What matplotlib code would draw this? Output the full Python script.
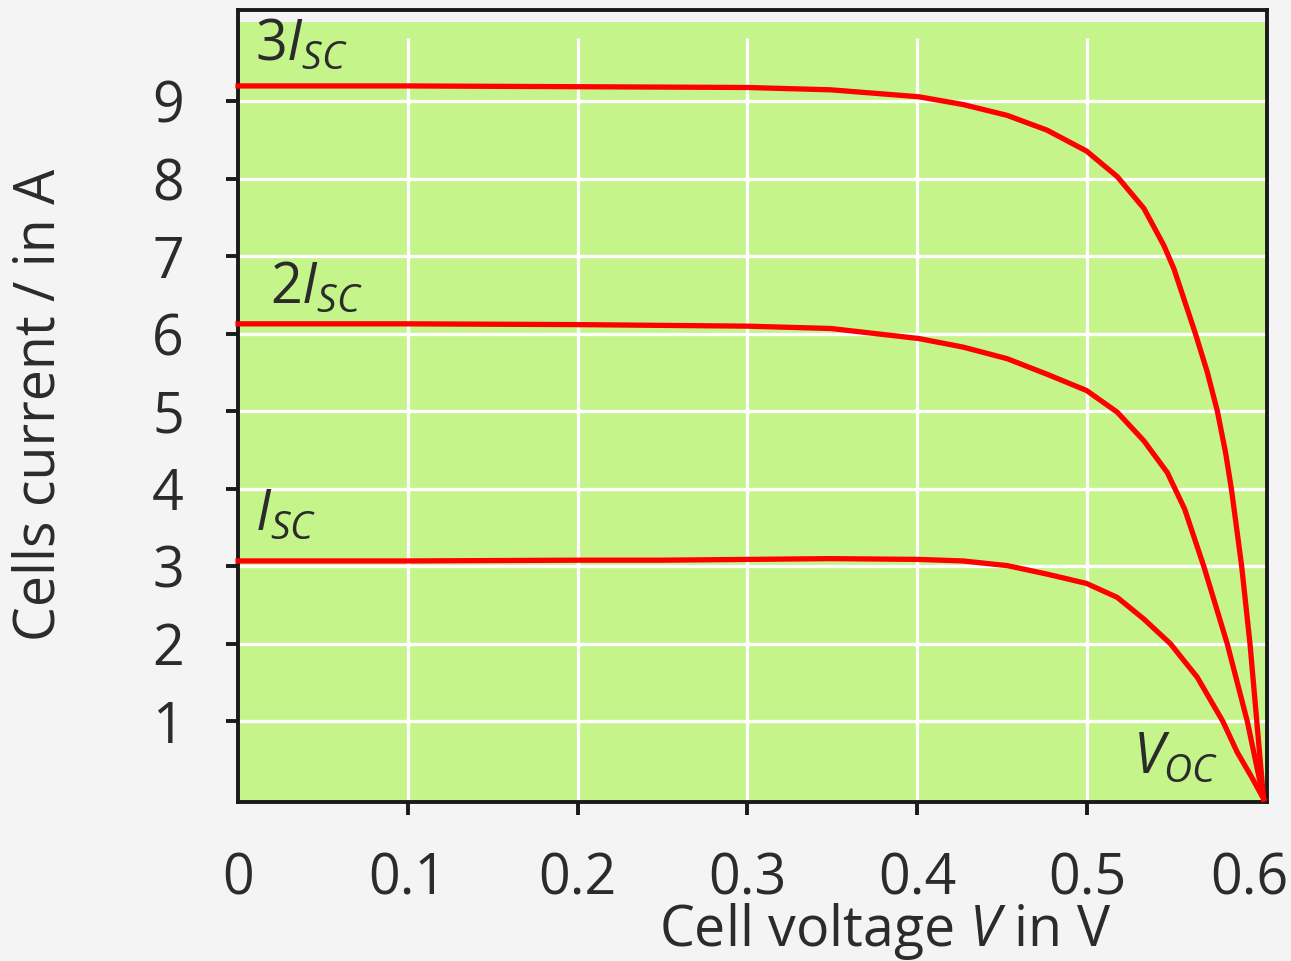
import matplotlib
matplotlib.use("Agg")
import matplotlib.pyplot as plt
from matplotlib.transforms import ScaledTranslation

plt.rcParams['font.family'] = ['Open Sans', 'DejaVu Sans']
plt.rcParams['mathtext.fontset'] = 'custom'
plt.rcParams['mathtext.rm'] = 'Open Sans'
plt.rcParams['mathtext.it'] = 'Open Sans:italic'

# data (cell voltage in V, current in A)
v_1isc = [0, 0.1, 0.2, 0.25, 0.3, 0.349, 0.401, 0.427, 0.453, 0.4765, 0.4997,
          0.5178, 0.5335, 0.5492, 0.5649, 0.58, 0.5885, 0.597, 0.604]
i_1isc = [3.07, 3.07, 3.08, 3.08, 3.09, 3.10, 3.09, 3.07, 3.01, 2.90, 2.78,
          2.60, 2.32, 2.0, 1.57, 1.0, 0.6, 0.28, 0.0]

v_2isc = [0, 0.1, 0.2, 0.3, 0.349, 0.401, 0.427, 0.453, 0.4764, 0.4997, 0.5178,
          0.5335, 0.5473, 0.5575, 0.5688, 0.5826, 0.5944, 0.604]
i_2isc = [6.13, 6.13, 6.12, 6.10, 6.07, 5.94, 5.83, 5.68, 5.48, 5.27, 4.99,
          4.62, 4.21, 3.74, 3.0, 2.0, 1.0, 0.0]

v_3isc = [0, 0.1, 0.2, 0.3, 0.349, 0.401, 0.427, 0.453, 0.4764, 0.4997, 0.5178,
          0.5335, 0.5453, 0.5512, 0.5639, 0.5708, 0.5767, 0.5816, 0.5851,
          0.5911, 0.596, 0.600, 0.604]
i_3isc = [9.20, 9.20, 9.19, 9.18, 9.15, 9.06, 8.96, 8.82, 8.63, 8.36, 8.03,
          7.62, 7.14, 6.84, 6.0, 5.51, 5.01, 4.47, 3.99,
          3.0, 2.0, 1.0, 0.0]

x_ticks = [0, 0.1, 0.2, 0.3, 0.4, 0.5, 0.6]
x_labels = ['0', '0.1', '0.2', '0.3', '0.4', '0.5', '0.6']
y_ticks = [1, 2, 3, 4, 5, 6, 7, 8, 9]

text_col = '#2b2b2b'
green = '#c5f48b'

fig = plt.figure(figsize=(12.91, 9.61), dpi=100, facecolor='#f4f4f4')
ax = fig.add_axes([0.1844, 0.1655, 0.7970, 0.8241])
ax.set_facecolor('none')
ax.set_xlim(0, 0.606)
ax.set_ylim(-0.04, 10.18)

# green plot area and white grid
ax.axhspan(-0.04, 10.03, color=green, lw=0, zorder=0)
ax.hlines(y_ticks, 0, 0.606, color='white', lw=2.4, zorder=1)
ax.vlines(x_ticks[1:-1], -0.04, 9.82, color='white', lw=2.4, zorder=1)

for v, i in [(v_1isc, i_1isc), (v_2isc, i_2isc), (v_3isc, i_3isc)]:
    ax.plot(v, i, color='red', lw=3.8, solid_joinstyle='round', zorder=3, clip_on=False)

ax.set_xticks(x_ticks)
ax.set_xticklabels(x_labels)
ax.set_yticks(y_ticks)
ax.tick_params(direction='out', length=9, width=2.8, color='#1a1a1a',
               labelsize=40, labelcolor=text_col, pad=30)
ax.tick_params(axis='x', pad=27)
ax.xaxis.get_major_ticks()[-1].tick1line.set_visible(False)
ax.xaxis.get_major_ticks()[0].tick1line.set_visible(False)
last = ax.get_xticklabels()[-1]
last.set_transform(last.get_transform() + ScaledTranslation(-0.07, 0, fig.dpi_scale_trans))
for s in ax.spines.values():
    s.set_linewidth(2.8)
    s.set_color('#1a1a1a')

# curve labels
lab = dict(fontsize=40, color=text_col, ha='left', va='baseline', zorder=4)
ax.text(0.010, 9.54, r'$\mathit{3I_{SC}}$', **lab)
ax.text(0.019, 6.40, r'$\mathit{2I_{SC}}$', **lab)
ax.text(0.010, 3.47, r'$\mathit{I_{SC}}$', **lab)
ax.text(0.527, 0.34, r'$\mathit{V_{OC}}$', **lab)

fig.text(40 / 1291, 1 - 405 / 961, 'Cells current / in A', rotation=90,
         fontsize=40, color=text_col, ha='center', va='center')
fig.text(885 / 1291, 1 - 932 / 961, r'Cell voltage $\mathit{V}$ in V',
         fontsize=40, color=text_col, ha='center', va='center')

fig.savefig('out.png', dpi=100, facecolor=fig.get_facecolor())
